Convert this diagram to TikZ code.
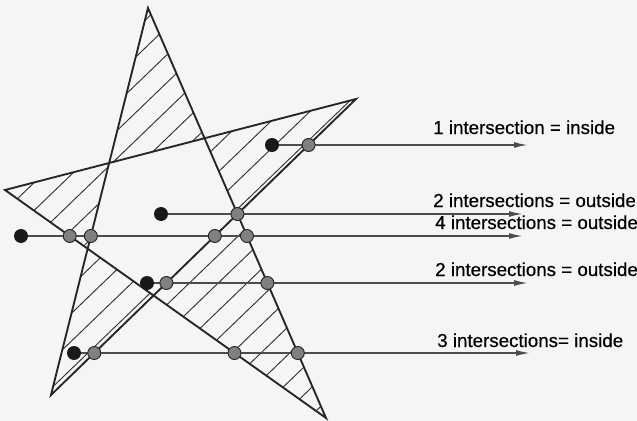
\documentclass[tikz,border=0pt]{standalone}
\usepackage{fontspec}
\setmainfont{Liberation Sans}
\newfontfamily\lblfont[FakeBold=0.4]{Liberation Sans}
\usetikzlibrary{arrows.meta}

\begin{document}
\begin{tikzpicture}[x=0.03cm,y=-0.03cm,
    edge/.style={line width=1.6pt,black!85,line join=miter},
    hatch/.style={line width=0.8pt,black!80},
    ray/.style={line width=1.4pt,black!70,-{Latex[length=4.2mm,width=1.8mm]}},
    test/.style={circle,fill=black!90,minimum size=0.42cm,inner sep=0pt},
    hit/.style={circle,draw=black!85,line width=0.8pt,fill=black!50,minimum size=0.39cm,inner sep=0pt},
    lbl/.style={anchor=base west,inner sep=0pt,font=\lblfont\fontsize{16}{18}\selectfont}]
  \useasboundingbox[fill=black!4] (0,0) rectangle (637,421);
  \coordinate (T)  at (148,8);
  \coordinate (R)  at (356,99);
  \coordinate (L)  at (5,190);
  \coordinate (BL) at (51,395);
  \coordinate (BR) at (326,418);
  \begin{scope}[even odd rule]
    \clip (T) -- (BR) -- (L) -- (R) -- (BL) -- cycle;
    \foreach \k [evaluate=\k as \d using 3+20*\k] in {-11,...,11}
      \draw[hatch] ([shift={(-0.694*\d,-0.720*\d)}]R) ++(-432,416) -- ++(864,-832);
  \end{scope}
  \draw[edge] (T) -- (BR) -- (L) -- (R) -- (BL) -- cycle;
  \node[test] (s1) at (272,145) {};
  \node[test] (s2) at (161,214) {};
  \node[test] (s3) at (21,236)  {};
  \node[test] (s4) at (147,283) {};
  \node[test] (s5) at (74,353)  {};
  \coordinate (e1) at (528,145);
  \coordinate (e2) at (523,214);
  \coordinate (e3) at (523,236);
  \coordinate (e4) at (528,283);
  \coordinate (e5) at (530,353);
  \foreach \i in {1,...,5}
    \draw[ray] (s\i) -- (e\i);
  \node[hit] (h1)  at (intersection of R--BL and s1.center--e1) {};
  \node[hit] (h2)  at (intersection of T--BR and s2.center--e2) {};
  \node[hit] (h3a) at (intersection of BR--L and s3.center--e3) {};
  \node[hit] (h3b) at (intersection of BL--T and s3.center--e3) {};
  \node[hit] (h3c) at (intersection of R--BL and s3.center--e3) {};
  \node[hit] (h3d) at (intersection of T--BR and s3.center--e3) {};
  \node[hit] (h4a) at (intersection of R--BL and s4.center--e4) {};
  \node[hit] (h4b) at (intersection of T--BR and s4.center--e4) {};
  \node[hit] (h5a) at (intersection of R--BL and s5.center--e5) {};
  \node[hit] (h5b) at (intersection of BR--L and s5.center--e5) {};
  \node[hit] (h5c) at (intersection of T--BR and s5.center--e5) {};
  \node[lbl] (t1) at (433,134) {1 intersection = inside};
  \node[lbl] (t2) at (433,207) {2 intersections = outside};
  \node[lbl] (t3) at (435,229) {4 intersections = outside};
  \node[lbl] (t4) at (435,276) {2 intersections = outside};
  \node[lbl] (t5) at (437,347) {3 intersections= inside};
\end{tikzpicture}
\end{document}
